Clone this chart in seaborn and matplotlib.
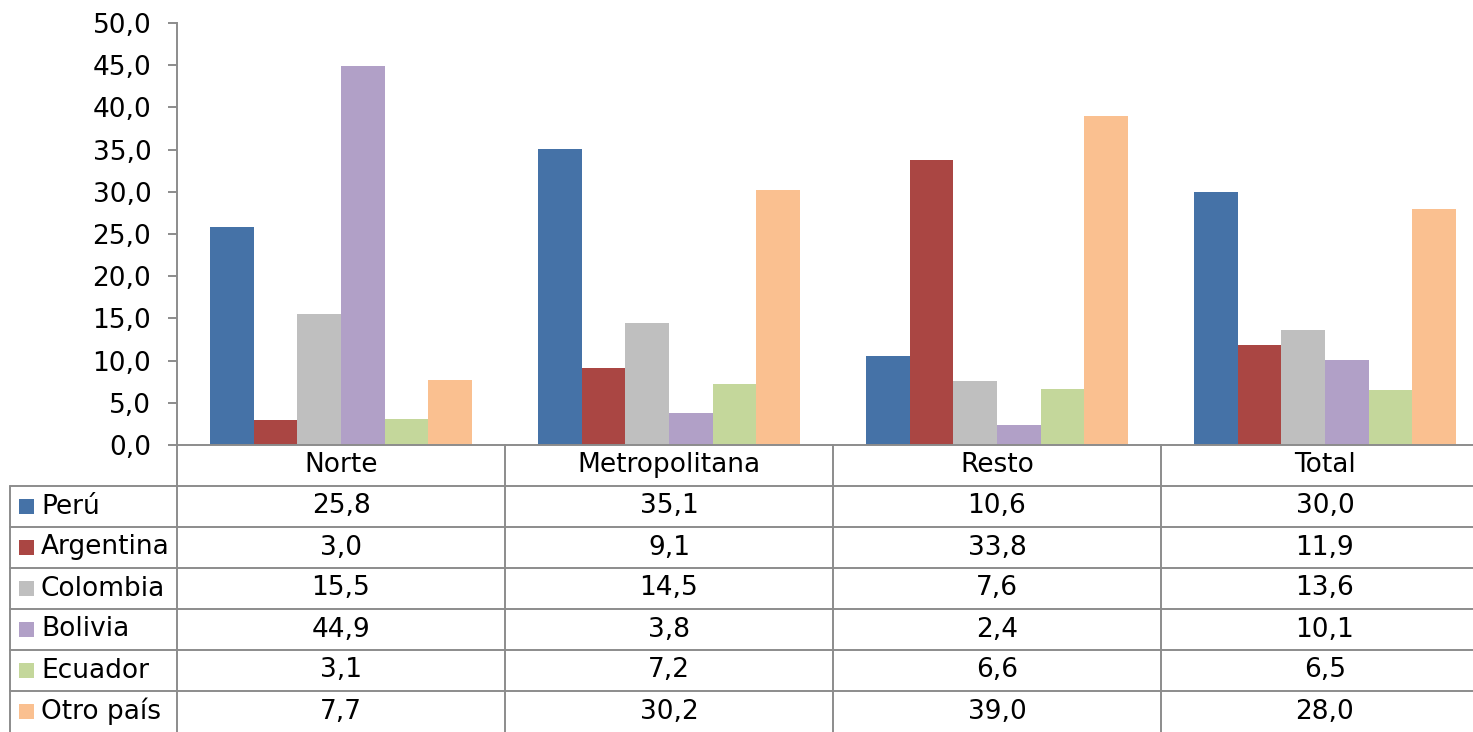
import numpy as np
import pandas as pd
import seaborn as sns
import matplotlib.pyplot as plt
from matplotlib.transforms import blended_transform_factory
from matplotlib.patches import Rectangle

regions = ["Norte", "Metropolitana", "Resto", "Total"]
countries = ["Perú", "Argentina", "Colombia", "Bolivia", "Ecuador", "Otro país"]
peru = [25.8, 35.1, 10.6, 30.0]
argentina = [3.0, 9.1, 33.8, 11.9]
colombia = [15.5, 14.5, 7.6, 13.6]
bolivia = [44.9, 3.8, 2.4, 10.1]
ecuador = [3.1, 7.2, 6.6, 6.5]
otro = [7.7, 30.2, 39.0, 28.0]
colors = ["#4572A7", "#AA4643", "#BFBFBF", "#B1A0C7", "#C4D79B", "#FAC090"]

series = [peru, argentina, colombia, bolivia, ecuador, otro]
rows = []
for c, vals in zip(countries, series):
    for r, v in zip(regions, vals):
        rows.append({"region": r, "pais": c, "valor": v})
df = pd.DataFrame(rows)

sns.set_style("white")
plt.rcParams["font.family"] = ["DejaVu Sans"]
plt.rcParams["text.color"] = "black"
plt.rcParams["ytick.labelcolor"] = "black"
FS = 19
GRAY = "#8c8c8c"

W, H = 1473, 732
fig = plt.figure(figsize=(W / 100, H / 100), dpi=100)
ax = fig.add_axes([177 / W, 1 - 445 / H, 1312 / W, (445 - 23) / H])

sns.barplot(data=df, x="region", y="valor", hue="pais", order=regions,
            hue_order=countries, palette=colors, saturation=1, width=0.8,
            edgecolor="none", legend=False, ax=ax)

ax.set_xlim(-0.5, len(regions) - 0.5)
ax.set_ylim(0, 50)
ax.set_yticks(np.arange(0, 50.1, 5))
ax.set_yticklabels([f"{v:.1f}".replace(".", ",") for v in np.arange(0, 50.1, 5)])
ax.tick_params(axis="y", which="major", length=6.5, width=1.4, color=GRAY,
               labelsize=FS, labelcolor="black", pad=12, left=True,
               direction="out")
ax.set_xticks([])
ax.set_xlabel("")
ax.set_ylabel("")
for s in ["top", "right"]:
    ax.spines[s].set_visible(False)
for s in ["left", "bottom"]:
    ax.spines[s].set_color(GRAY)
    ax.spines[s].set_linewidth(1.4)

# data table below the plot, y in image rows
tab = fig.add_axes([0, 0, 1, 1 - 445 / H])
tab.set_xlim(0, W)
tab.set_ylim(H, 445)
tab.axis("off")
tr = blended_transform_factory(ax.transData, tab.transData)

row_h = 41
top = 445
n = len(countries)
# vertical lines
for b in np.arange(-0.5, len(regions) - 0.5 + 0.01, 1.0):
    tab.plot([b, b], [top, H], transform=tr, color=GRAY, lw=1.4, clip_on=False)
tab.plot([10, 10], [top + row_h, H], color=GRAY, lw=1.4, clip_on=False)
# horizontal lines
for i in range(1, n + 1):
    y = top + row_h * i
    tab.plot([10, W], [y, y], color=GRAY, lw=1.4, clip_on=False)

for j, r in enumerate(regions):
    tab.text(j, top + row_h / 2, r, transform=tr, ha="center", va="center",
             fontsize=FS, color="black")
for i, (c, vals, col) in enumerate(zip(countries, series, colors)):
    yc = top + row_h * (i + 1) + row_h / 2
    tab.add_patch(Rectangle((19, yc - 7.5), 15, 15, facecolor=col,
                            edgecolor="none"))
    tab.text(41, yc, c, ha="left", va="center", fontsize=FS, color="black")
    for j, v in enumerate(vals):
        tab.text(j, yc, f"{v:.1f}".replace(".", ","), transform=tr,
                 ha="center", va="center", fontsize=FS, color="black")

fig.savefig("out.png", dpi=100)
